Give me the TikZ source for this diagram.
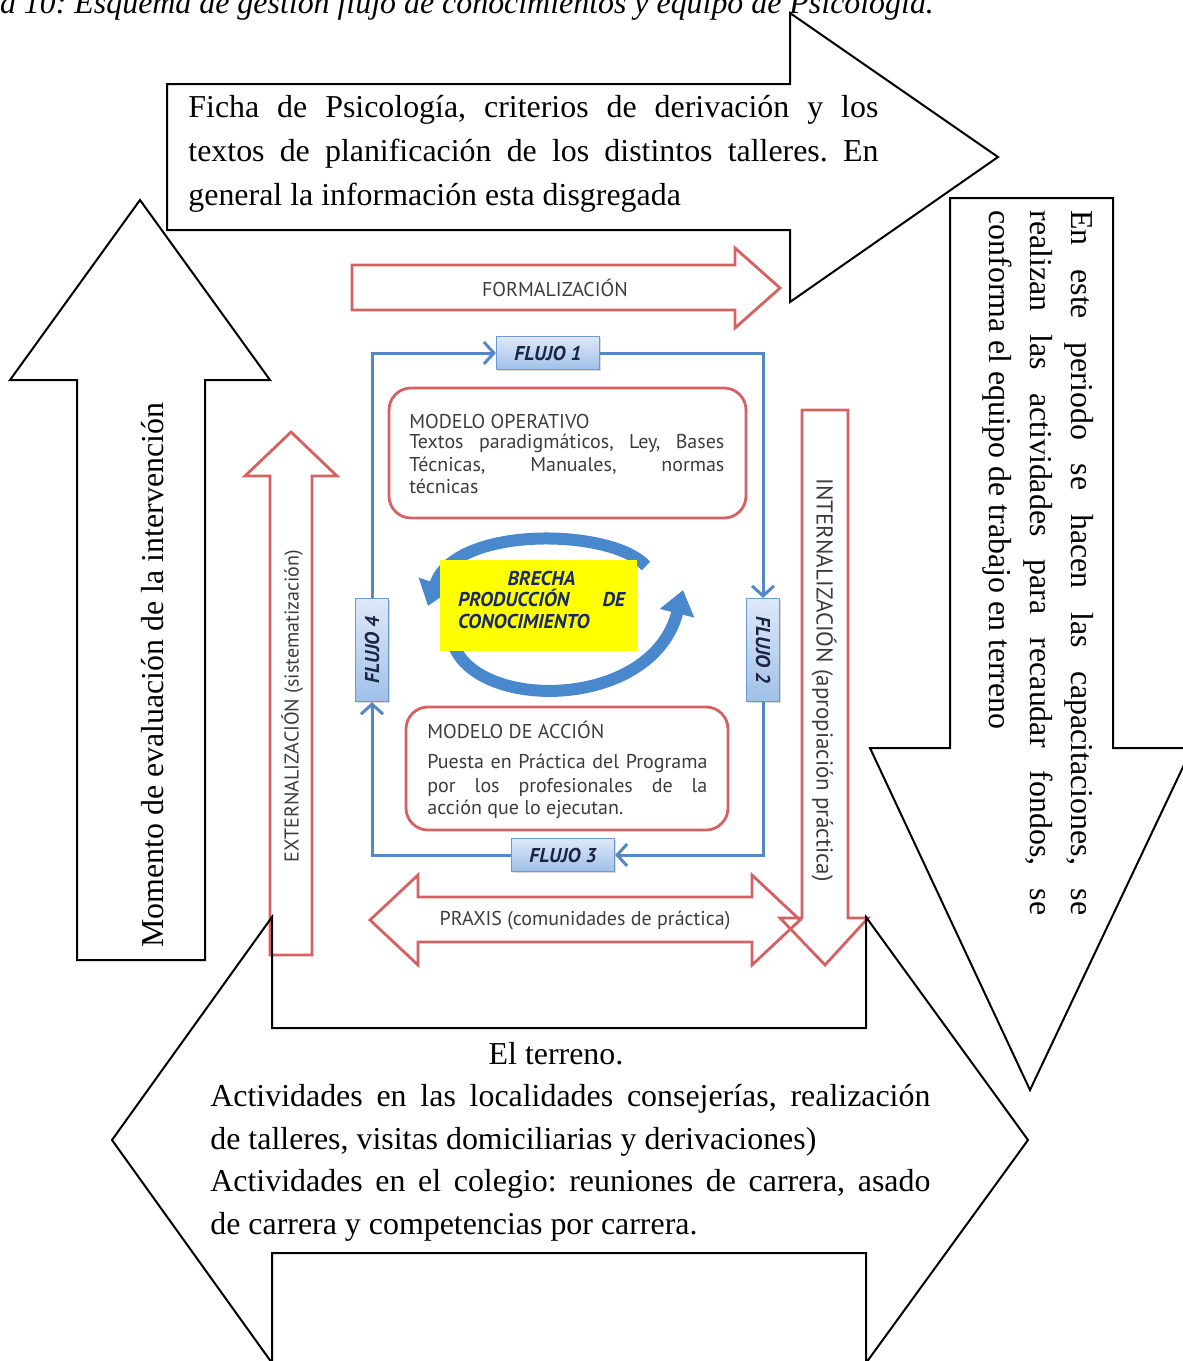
\documentclass[tikz,border=0pt]{standalone}
\usepackage{fontspec}
\setmainfont{Liberation Serif}
\newfontfamily\diagsans{PT Sans}
\usetikzlibrary{arrows.meta,shadows}
\frenchspacing

\newcommand\txtbody{\fontsize{15.95pt}{21.5pt}\selectfont}
\newcommand\txtinner{\diagsans\fontsize{10pt}{11pt}\selectfont}

\definecolor{ringred}{RGB}{214,96,98}
\definecolor{loopblue}{RGB}{84,136,196}
\definecolor{tagtop}{RGB}{222,233,248}
\definecolor{tagbot}{RGB}{160,192,232}
\definecolor{tagline}{RGB}{110,152,210}
\definecolor{navy}{RGB}{28,36,70}
\definecolor{inktext}{RGB}{60,60,60}
\definecolor{cycleblue}{RGB}{74,136,205}
\definecolor{gapyellow}{RGB}{255,255,0}
\definecolor{gapnavy}{RGB}{24,40,110}

\begin{document}
\begin{tikzpicture}[x=0.5pt,y=-0.5pt,
  blockarrow/.style={draw=black, line width=1pt, line join=miter},
  redshape/.style={draw=ringred, line width=1.4pt, line join=miter},
  modelbox/.style={draw=ringred, line width=1.4pt, rounded corners=11pt, inner sep=0pt},
  flowline/.style={draw=loopblue, line width=1.5pt, -{Straight Barb[length=5pt,width=11pt]}},
  flowtag/.style={draw=tagline, line width=0.6pt, top color=tagtop, bottom color=tagbot,
    font=\txtinner\bfseries\itshape, text=navy, inner sep=0pt,
    minimum width=51.5pt, minimum height=16.5pt,
    drop shadow={opacity=0.3,shadow xshift=0.8pt,shadow yshift=-0.8pt}},
  body/.style={font=\txtbody, inner sep=0pt, anchor=base west},
  innertxt/.style={font=\txtinner, text=inktext, inner sep=0pt},
  linetxt/.style={innertxt, anchor=base west},
  gaptxt/.style={font=\txtinner\bfseries\itshape, text=gapnavy, inner sep=0pt, anchor=base},
  cyclearrow/.style={draw=cycleblue, line width=6pt, -{Triangle[length=12pt,width=17pt]}},
]
\useasboundingbox (0,0) rectangle (1183,1361);

% caption line, cut by the page edge
\begin{scope}
  \clip (0,0) rectangle (1183,1361);
  \node[body, font=\txtbody\itshape] (caption) at (-73,13)
    {Figura 10: Esquema de gestión flujo de conocimientos y equipo de Psicología.};
\end{scope}

% ---------------- central knowledge-flow scheme ----------------
% formalization arrow
\draw[redshape] (352,265) -- (735,265) -- (735,248) -- (780,288) -- (735,328)
  -- (735,310) -- (352,310) -- cycle;
\node[innertxt] (formal) at (555,288) {FORMALIZACIÓN};

% externalization arrow (upwards)
\draw[redshape] (270,955) -- (270,476) -- (245,476) -- (291,432) -- (337,476)
  -- (312,476) -- (312,955) -- cycle;
\node[innertxt, rotate=90] (extern) at (292,706) {EXTERNALIZACIÓN (sistematización)};

% internalization arrow (downwards)
\draw[redshape] (802,410) -- (848,410) -- (848,918) -- (868,918) -- (825,965)
  -- (780,918) -- (802,918) -- cycle;
\node[innertxt, rotate=-90, font=\diagsans\fontsize{11.5pt}{12pt}\selectfont] (intern) at (824,680)
  {INTERNALIZACIÓN (apropiación práctica)};

% praxis double arrow
\draw[redshape] (418,897) -- (752,897) -- (752,875) -- (800,920) -- (752,965)
  -- (752,942) -- (418,942) -- (418,965) -- (370,920) -- (418,875) -- cycle;
\node[innertxt] (praxis) at (585,920) {PRAXIS (comunidades de práctica)};

% operative model
\node[modelbox, minimum width=178.5pt, minimum height=65pt] (mop) at (567.5,453) {};
\node[linetxt] (mop1) at (409,428) {MODELO OPERATIVO};
\node[linetxt] (mop2) at (409,448) {\makebox[157.5pt][s]{Textos paradigmáticos, Ley, Bases}};
\node[linetxt] (mop3) at (409,471) {\makebox[157.5pt][s]{Técnicas, Manuales, normas}};
\node[linetxt] (mop4) at (409,493) {técnicas};

% action model
\node[modelbox, minimum width=161pt, minimum height=61.5pt] (mac) at (567,768.5) {};
\node[linetxt] (mac1) at (427,738) {MODELO DE ACCIÓN};
\node[linetxt] (mac2) at (427,768) {\makebox[140pt][s]{Puesta en Práctica del Programa}};
\node[linetxt] (mac3) at (427,792) {\makebox[140pt][s]{por los profesionales de la}};
\node[linetxt] (mac4) at (427,814) {acción que lo ejecutan.};

% knowledge cycle around the gap
\draw[cyclearrow] (646,566) .. controls (612,528) and (455,525) .. (428,606);
\draw[cyclearrow] (452,640) .. controls (470,712) and (652,712) .. (683,590);
\node[fill=gapyellow, minimum width=98.5pt, minimum height=45.5pt, inner sep=0pt] (gap) at (538.5,605.5) {};
\node[gaptxt] (gap1) at (541.5,585) {BRECHA};
\node[gaptxt] (gap2) at (541.5,606) {\makebox[83.5pt][s]{PRODUCCIÓN DE}};
\node[gaptxt] (gap3) at (541.5,628) {\makebox[83.5pt][l]{CONOCIMIENTO}};

% the four flows
\node[flowtag] (f1) at (548,353) {FLUJO 1};
\node[flowtag, rotate=-90] (f2) at (763,650) {FLUJO 2};
\node[flowtag] (f3) at (563,855) {FLUJO 3};
\node[flowtag, rotate=90] (f4) at (372,650) {FLUJO 4};
\draw[flowline] (f4.east) |- (f1.west);
\draw[flowline] (f1.east) -| (f2.west);
\draw[flowline] (f2.east) |- (f3.east);
\draw[flowline] (f3.west) -| (f4.west);

% ---------------- surrounding block arrows ----------------
% top: records
\draw[blockarrow] (167,84) -- (790,84) -- (790,13) -- (998,157) -- (790,302)
  -- (790,230) -- (167,230) -- cycle;
\node[body] (top1) at (188,117) {\makebox[345pt][s]{Ficha de Psicología, criterios de derivación y los}};
\node[body] (top2) at (188,161) {\makebox[345pt][s]{textos de planificación de los distintos talleres. En}};
\node[body] (top3) at (188,205) {general la información esta disgregada};

% left: evaluation
\draw[blockarrow] (77,960) -- (77,380) -- (10,380) -- (140,200) -- (270,380)
  -- (205,380) -- (205,960) -- cycle;
\node[body, rotate=90] (left1) at (163,948) {Momento de evaluación de la intervención};

% right: preparation period
\draw[blockarrow] (950,198) -- (1113,198) -- (1113,748) -- (1192,748) -- (1030,1090)
  -- (870,748) -- (950,748) -- cycle;
\node[body, rotate=-90] (right1) at (1071,210) {\makebox[352.5pt][s]{En este periodo se hacen las capacitaciones, se}};
\node[body, rotate=-90] (right2) at (1030,210) {\makebox[352.5pt][s]{realizan las actividades para recaudar fondos, se}};
\node[body, rotate=-90] (right3) at (989,210) {conforma el equipo de trabajo en terreno};

% bottom: field work
\draw[blockarrow] (272,1028) -- (272,917) -- (112,1140) -- (272,1363) -- (272,1253)
  -- (866,1253) -- (866,1363) -- (1028,1140) -- (866,917) -- (866,1028) -- cycle;
\node[body, anchor=base] (bot0) at (556,1064) {El terreno.};
\node[body] (bot1) at (210,1106) {\makebox[360pt][s]{Actividades en las localidades consejerías, realización}};
\node[body] (bot2) at (210,1149) {de talleres, visitas domiciliarias y derivaciones)};
\node[body] (bot3) at (210,1191) {\makebox[360pt][s]{Actividades en el colegio: reuniones de carrera, asado}};
\node[body] (bot4) at (210,1234) {de carrera y competencias por carrera.};
\end{tikzpicture}
\end{document}
